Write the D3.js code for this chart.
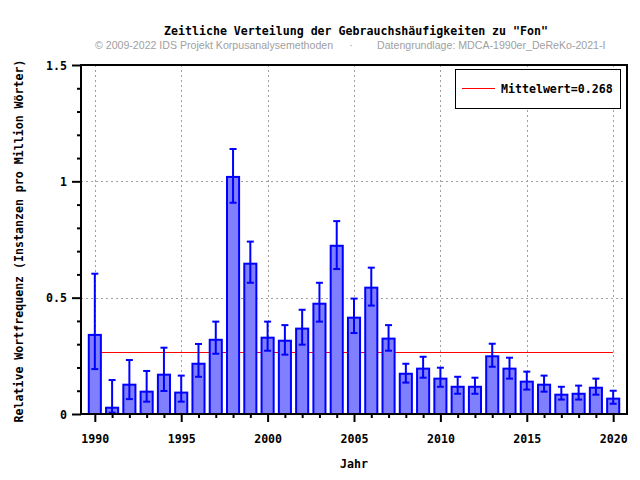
<!DOCTYPE html>
<html><head><meta charset="utf-8">
<script src="https://cdn.jsdelivr.net/npm/d3@7/dist/d3.min.js"></script>
<style>
body{margin:0;background:#fff;}
svg{display:block;}
.mono{font-family:"DejaVu Sans Mono",monospace;font-weight:bold;font-size:11.6px;fill:#000;}
</style></head>
<body>
<svg id="c" width="640" height="480"></svg>
<script>
const years = [1990,1991,1992,1993,1994,1995,1996,1997,1998,1999,2000,2001,2002,2003,2004,2005,2006,2007,2008,2009,2010,2011,2012,2013,2014,2015,2016,2017,2018,2019,2020];
const values = [0.340,0.027,0.126,0.096,0.169,0.092,0.216,0.319,1.019,0.646,0.328,0.315,0.367,0.474,0.723,0.414,0.543,0.324,0.173,0.195,0.152,0.117,0.117,0.248,0.195,0.139,0.126,0.083,0.087,0.113,0.066];
const errLow = [0.193,0.006,0.064,0.053,0.099,0.053,0.160,0.259,0.908,0.564,0.272,0.255,0.298,0.397,0.623,0.348,0.466,0.272,0.135,0.156,0.117,0.087,0.087,0.203,0.152,0.105,0.096,0.062,0.062,0.083,0.044];
const errHigh = [0.603,0.146,0.232,0.185,0.285,0.165,0.301,0.397,1.139,0.741,0.397,0.382,0.448,0.564,0.829,0.496,0.629,0.382,0.216,0.246,0.199,0.160,0.156,0.302,0.242,0.182,0.165,0.117,0.122,0.152,0.100];
const meanValue = 0.268;
const meanLabel = "Mittelwert=0.268";
const xMajorTicks = [1990,1995,2000,2005,2010,2015,2020];
const yMajorTicks = [0,0.5,1,1.5];
const yMinorTicks = [0.1,0.2,0.3,0.4,0.6,0.7,0.8,0.9,1.1,1.2,1.3,1.4];
const titleText = 'Zeitliche Verteilung der Gebrauchshäufigkeiten zu "Fon"';
const subLeft = "© 2009-2022 IDS Projekt Korpusanalysemethoden";
const subRight = "Datengrundlage: MDCA-1990er_DeReKo-2021-I";
const xLabel = "Jahr";
const yLabel = "Relative Wortfrequenz (Instanzen pro Million Wörter)";

const svg = d3.select("#c");
const L = 81, R = 627, T = 65, B = 414;
const x = d3.scaleLinear().domain([1989.2, 2020.8]).range([L, R]);
const y = d3.scaleLinear().domain([0, 1.5]).range([B, T]);
const barW = (x(1) - x(0)) * 0.7;

// grid
const grid = svg.append("g").attr("stroke","#a0a0a0").attr("stroke-width",1).attr("stroke-dasharray","2,3");
grid.selectAll("line.v").data(xMajorTicks).join("line")
  .attr("x1", d=>Math.round(x(d))+0.5).attr("x2", d=>Math.round(x(d))+0.5).attr("y1", T).attr("y2", B);
grid.selectAll("line.h").data([0.5,1]).join("line")
  .attr("y1", d=>Math.round(y(d))+0.5).attr("y2", d=>Math.round(y(d))+0.5).attr("x1", L).attr("x2", R);

// mean line
svg.append("line").attr("x1", x(1990)).attr("x2", x(2020))
  .attr("y1", Math.round(y(meanValue))+0.5).attr("y2", Math.round(y(meanValue))+0.5)
  .attr("stroke","#ff0000").attr("stroke-width",1);

// bars
svg.append("g").selectAll("rect").data(years).join("rect")
  .attr("x", (d)=>x(d)-barW/2).attr("width", barW)
  .attr("y", (d,i)=>y(values[i])).attr("height", (d,i)=>y(0)-y(values[i]))
  .attr("fill","#8080ff").attr("stroke","#0000ff").attr("stroke-width",2);

// error bars
const eb = svg.append("g").attr("stroke","#0000ff").attr("stroke-width",2);
eb.selectAll("line.s").data(years).join("line")
  .attr("x1", d=>x(d)).attr("x2", d=>x(d))
  .attr("y1", (d,i)=>y(errLow[i])).attr("y2", (d,i)=>y(errHigh[i]));
eb.selectAll("line.t").data(years).join("line")
  .attr("x1", d=>x(d)-3.5).attr("x2", d=>x(d)+3.5)
  .attr("y1", (d,i)=>y(errHigh[i])).attr("y2", (d,i)=>y(errHigh[i]));
eb.selectAll("line.b").data(years).join("line")
  .attr("x1", d=>x(d)-3.5).attr("x2", d=>x(d)+3.5)
  .attr("y1", (d,i)=>y(errLow[i])).attr("y2", (d,i)=>y(errLow[i]));

// axes
const fmt = d => d===0 ? "0" : String(d);
const yAx = svg.append("g").attr("transform",`translate(${L},0)`)
  .call(d3.axisLeft(y).tickValues(yMajorTicks).tickSize(9).tickPadding(5).tickFormat(fmt));
const yAxMin = svg.append("g").attr("transform",`translate(${L},0)`)
  .call(d3.axisLeft(y).tickValues(yMinorTicks).tickSize(4).tickFormat(""));
const xAx = svg.append("g").attr("transform",`translate(0,${B})`)
  .call(d3.axisBottom(x).tickValues(xMajorTicks).tickSize(8).tickPadding(11).tickFormat(d3.format("d")));
const xAxMin = svg.append("g").attr("transform",`translate(0,${B})`)
  .call(d3.axisBottom(x).tickValues(years.filter(d=>!xMajorTicks.includes(d))).tickSize(4).tickFormat(""));
[yAx,yAxMin,xAx,xAxMin].forEach(g=>{
  g.select(".domain").remove();
  g.selectAll(".tick line").attr("stroke","#000").attr("stroke-width",2);
  g.selectAll("text").attr("class","mono").attr("font-family",null).attr("font-size",null).attr("fill",null);
});
xAx.selectAll("text").attr("dy", null).attr("y", 29);
yAx.selectAll("text").attr("dy","0.35em");

// frame
svg.append("rect").attr("x",L).attr("y",T).attr("width",R-L).attr("height",B-T)
  .attr("fill","none").attr("stroke","#000").attr("stroke-width",2);

// legend
svg.append("rect").attr("x",455.5).attr("y",69.5).attr("width",165).attr("height",39)
  .attr("fill","#fff").attr("stroke","#000").attr("stroke-width",1);
svg.append("line").attr("x1",462).attr("x2",495).attr("y1",88.5).attr("y2",88.5)
  .attr("stroke","#ff0000").attr("stroke-width",1);
svg.append("text").attr("class","mono").attr("x",501).attr("y",93).text(meanLabel);

// titles
svg.append("text").attr("class","mono").attr("x",356).attr("y",35).attr("text-anchor","middle")
  .style("font-size","11.6px").text(titleText);
const sub = svg.append("g").attr("fill","#a0a0a0").style("font-family","'Liberation Sans',Arial,sans-serif").style("font-size","10.6px");
sub.append("text").attr("x",95).attr("y",49).text(subLeft);
sub.append("text").attr("x",351).attr("y",49).attr("text-anchor","middle").text("·");
sub.append("text").attr("x",377).attr("y",49).text(subRight);

svg.append("text").attr("class","mono").attr("x",354).attr("y",468).attr("text-anchor","middle").text(xLabel);
svg.append("text").attr("class","mono").attr("transform","translate(23,241) rotate(-90)")
  .attr("text-anchor","middle").text(yLabel);
</script>
</body></html>
